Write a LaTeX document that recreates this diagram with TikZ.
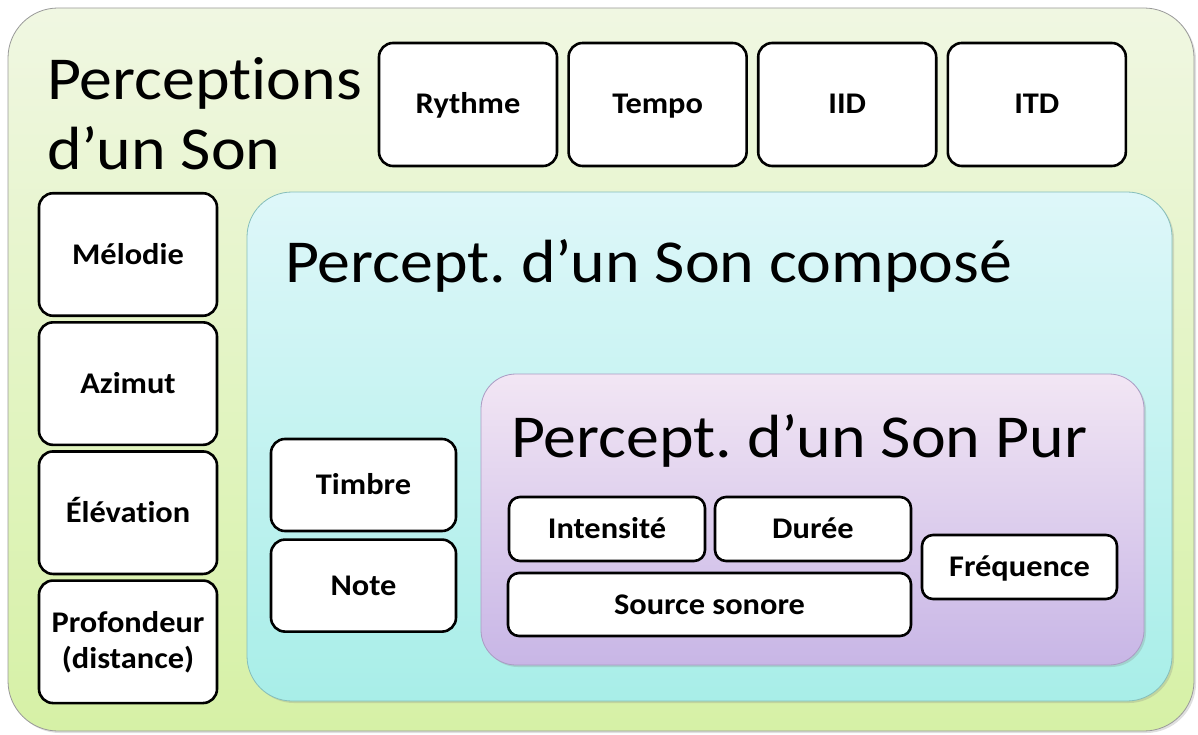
\documentclass[tikz,border=0pt]{standalone}
\usepackage{fontspec}
\setmainfont{Carlito}[FakeStretch=1.08,Ligatures=NoCommon]
\usetikzlibrary{shadows,positioning}

\definecolor{vertH}{RGB}{240,247,226}
\definecolor{vertB}{RGB}{214,241,166}
\definecolor{cyanH}{RGB}{222,247,249}
\definecolor{cyanB}{RGB}{168,238,232}
\definecolor{mauveH}{RGB}{242,230,244}
\definecolor{mauveB}{RGB}{200,182,230}

\tikzset{
  zone/.style={line width=0.8pt, drop shadow={opacity=0.25,shadow xshift=2pt,shadow yshift=-2pt}},
  case/.style={draw=black, line width=2.6pt, fill=white, rounded corners=14pt,
    inner sep=0pt, align=center, text height=19pt, text depth=0pt,
    font=\fontsize{30}{36}\selectfont\bfseries},
  haute/.style={case, minimum width=178pt, minimum height=123pt},
  petite/.style={case, rounded corners=11pt, minimum height=64pt},
  titre/.style={inner sep=0pt, anchor=base west, align=left,
    font=\fontsize{61}{70}\selectfont},
}

\begin{document}
\frenchspacing
\begin{tikzpicture}[x=1pt,y=-1pt]
  \useasboundingbox (0,0) rectangle (1198,735);

  % les trois niveaux
  \draw[zone, draw=gray!80, top color=vertH, bottom color=vertB, rounded corners=50pt]
    (8,8) rectangle (1194,731);
  \draw[zone, draw=cyanB!80!black, top color=cyanH, bottom color=cyanB, rounded corners=45pt]
    (247,192) rectangle (1172,701);
  \draw[zone, draw=mauveB!85!black, top color=mauveH, bottom color=mauveB, rounded corners=35pt]
    (481,374) rectangle (1144,665);

  \node[titre] (son) at (47,170) {Perceptions\\d’un Son};
  \node[titre] (compose) at (285,282) {Percept. d’un Son composé};
  \node[titre] (pur) at (511,457) {Percept. d’un Son Pur};

  % son
  \node[haute] (rythme) at (468,104.5) {Rythme};
  \node[haute, right=9pt of rythme] (tempo) {Tempo};
  \node[haute, right=9pt of tempo] (iid) {IID};
  \node[haute, right=9pt of iid] (itd) {ITD};

  \node[haute, minimum height=122.5pt] (melodie) at (128,254.5) {Mélodie};
  \node[haute, minimum height=122.5pt, below=4pt of melodie] (azimut) {Azimut};
  \node[haute, minimum height=122.5pt, below=4pt of azimut] (elevation) {Élévation};
  \node[haute, minimum height=122.5pt, below=4pt of elevation, text height=, text depth=]
    (profondeur) {Profondeur\\(distance)};

  % son compose
  \node[case, minimum width=185pt, minimum height=92pt] (timbre) at (363.5,485) {Timbre};
  \node[case, minimum width=185pt, minimum height=92pt, below=6pt of timbre] (note) {Note};

  % son pur
  \node[petite, minimum width=196pt] (intensite) at (607,529) {Intensité};
  \node[petite, minimum width=196pt] (duree) at (813,529) {Durée};
  \node[petite, minimum width=403pt, minimum height=63pt] (source) at (709.5,604.5) {Source sonore};
  \node[petite, minimum width=195pt] (frequence) at (1019.5,567) {Fréquence};
\end{tikzpicture}
\end{document}
